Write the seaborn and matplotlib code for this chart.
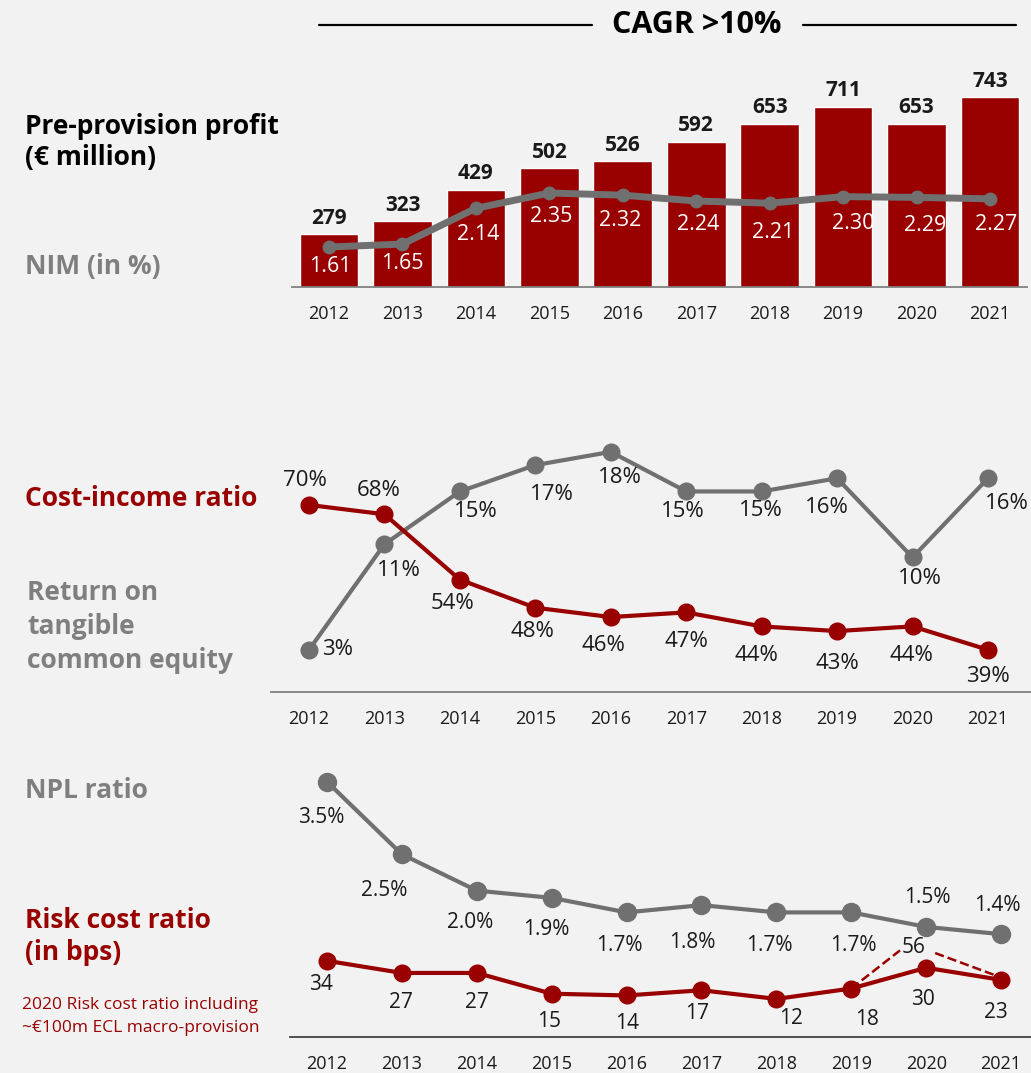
import matplotlib
matplotlib.use("Agg")
import matplotlib.pyplot as plt
import seaborn as sns
from matplotlib.lines import Line2D

# data
years = [2012, 2013, 2014, 2015, 2016, 2017, 2018, 2019, 2020, 2021]
profit = [279, 323, 429, 502, 526, 592, 653, 711, 653, 743]
nim = [1.61, 1.65, 2.14, 2.35, 2.32, 2.24, 2.21, 2.30, 2.29, 2.27]
cost_income = [70, 68, 54, 48, 46, 47, 44, 43, 44, 39]
rote = [3, 11, 15, 17, 18, 15, 15, 16, 10, 16]
npl = [3.5, 2.5, 2.0, 1.9, 1.7, 1.8, 1.7, 1.7, 1.5, 1.4]
risk_cost = [34, 27, 27, 15, 14, 17, 12, 18, 30, 23]
risk_2020_incl_ecl = 56

RED = "#990000"
GRAY = "#707070"
TXTGRAY = "#7f7f7f"
BG = "#f2f2f2"
INK = "#1a1a1a"

sns.set_theme(style="white")
plt.rcParams["font.family"] = ["Open Sans", "DejaVu Sans"]

W, H = 1031, 1073


def px_box(l, t, r, b):
    return [l / W, 1 - b / H, (r - l) / W, (b - t) / H]


def fig_txt(x, y, s, **kw):
    fig.text(x / W, 1 - y / H, s, va="center", **kw)


def clean(ax, spine_color=None):
    for side in ["top", "left", "right", "bottom"]:
        ax.spines[side].set_visible(False)
    if spine_color:
        ax.spines["bottom"].set_visible(True)
        ax.spines["bottom"].set_color(spine_color)
        ax.spines["bottom"].set_linewidth(1.3)
    ax.set_yticks([])
    ax.set_ylabel("")
    ax.set_xlabel("")
    ax.patch.set_alpha(0)


def label_points(ax, xs, ys, texts, offsets, **kw):
    for x, y, t, (dx, dy) in zip(xs, ys, texts, offsets):
        ax.annotate(t, (x, y), xytext=(dx, -dy), textcoords="offset pixels",
                    ha="center", va="center", annotation_clip=False, **kw)


def year_axis(ax, right=9.5):
    ax.set_xlim(years[0] - 0.5, years[0] + right)
    ax.set_xticks(years)
    ax.set_xticklabels([str(y) for y in years], fontsize=13, color=INK)
    ax.tick_params(axis="x", length=0, pad=13)


fig = plt.figure(figsize=(W / 100, H / 100), dpi=100, facecolor=BG)

# ---- panel 1: pre-provision profit bars + NIM line
ax1 = fig.add_axes(px_box(292.3, 90, 1026.7, 287))
sns.barplot(x=years, y=profit, native_scale=True, color=RED, saturation=1,
            width=0.8, ax=ax1)
ax1.set_ylim(100, 767)
clean(ax1, "#808080")
year_axis(ax1)
ax1.bar_label(ax1.containers[0], labels=[str(v) for v in profit], padding=4,
              fontsize=15, fontweight="bold", color=INK)

ax1b = ax1.twinx()
sns.lineplot(x=years, y=nim, color=GRAY, linewidth=5, marker="o",
             markersize=10, markeredgewidth=0, ax=ax1b)
ax1b.set_ylim(1.062, 3.761)
clean(ax1b)
nim_off = [(1, 19), (0, 19), (2, 26), (2, 24), (-3, 25), (2, 23), (3, 29),
           (10, 27), (9, 28), (6, 26)]
label_points(ax1b, years, nim, [f"{v:.2f}" for v in nim], nim_off,
             fontsize=15.5, color="white")

# ---- panel 2: cost-income ratio and RoTE
ax2 = fig.add_axes(px_box(271.3, 440, 1025.7, 692))
sns.lineplot(x=years, y=rote, color=GRAY, linewidth=3, marker="o",
             markersize=13, markeredgewidth=0, ax=ax2)
ax2.set_ylim(-0.2, 18.9)
clean(ax2, "#808080")
year_axis(ax2)
ax2.spines["bottom"].set_bounds(years[0] - 0.5, years[0] + 9.9)
rote_off = [(29, 0), (14, 26), (16, 20), (17, 29), (9, 26), (-3, 20),
          (-1, 19), (-10, 29), (7, 21), (19, 25)]
label_points(ax2, years, rote, [f"{v}%" for v in rote], rote_off,
             fontsize=16, color=INK)

ax2b = ax2.twinx()
sns.lineplot(x=years, y=cost_income, color=RED, linewidth=3, marker="o",
             markersize=13, markeredgewidth=0, ax=ax2b)
ax2b.set_ylim(29.96, 83.9)
clean(ax2b)
ci_off = [(-4, -24), (-6, -24), (-7, 24), (-3, 24), (-7, 28), (0, 29),
          (-5, 29), (0, 32), (-1, 29), (0, 27)]
label_points(ax2b, years, cost_income, [f"{v}%" for v in cost_income], ci_off,
             fontsize=16, color=INK)

# ---- panel 3: NPL ratio and risk cost
ax3 = fig.add_axes(px_box(289.6, 760, 1031, 1037))
sns.lineplot(x=years, y=npl, color=GRAY, linewidth=3, marker="o",
             markersize=14, markeredgewidth=0, ax=ax3)
ax3.set_ylim(-0.017, 3.80)
clean(ax3, "#404040")
year_axis(ax3, right=9.4)
npl_off = [(-6, 36), (-18, 36), (-7, 32), (-5, 32), (-7, 33), (-9, 37),
           (-7, 33), (2, 33), (1, -29), (-4, -29)]
label_points(ax3, years, npl, [f"{v:.1f}%" for v in npl], npl_off,
             fontsize=15, color=INK)

ax3b = ax3.twinx()
sns.lineplot(x=years, y=risk_cost, color=RED, linewidth=3, marker="o",
             markersize=13, markeredgewidth=0, ax=ax3b)
ax3b.set_ylim(-10, 150)
clean(ax3b)
rc_off = [(-6, 24), (-1, 30), (0, 30), (-3, 28), (0, 28), (-4, 23),
          (15, 20), (16, 31), (-3, 32), (-5, 33)]
label_points(ax3b, years, risk_cost, [str(v) for v in risk_cost], rc_off,
             fontsize=15, color=INK)

# 2020 incl. ECL macro-provision: dashed detour around the "56" label
peak = risk_cost[8] + 10
ax3b.plot([years[7], years[8] - 0.35], [risk_cost[7], peak], ls="--",
          color=RED, lw=1.8)
ax3b.plot([years[8] + 0.12, years[9] - 0.1], [peak - 1.5, risk_cost[9] + 3],
          ls="--", color=RED, lw=1.8)
ax3b.annotate(str(risk_2020_incl_ecl), (years[8], peak), xytext=(-13, 3),
              textcoords="offset pixels", ha="center", va="center",
              fontsize=15, color=INK)

# ---- headline and left-hand labels
fig_txt(697, 25, "CAGR >10%", ha="center", fontsize=22, fontweight="bold",
        color="black")
fig.add_artist(Line2D([319 / W, 592 / W], [1 - 25 / H] * 2, color="black", lw=1.6))
fig.add_artist(Line2D([803 / W, 1016 / W], [1 - 25 / H] * 2, color="black", lw=1.6))

bold = dict(fontsize=19, fontweight="bold", ha="left")
fig_txt(25, 126, "Pre-provision profit", color="black", **bold)
fig_txt(25, 158, "(€ million)", color="black", **bold)
fig_txt(25, 267, "NIM (in %)", color=TXTGRAY, **bold)
fig_txt(25, 498, "Cost-income ratio", color=RED, **bold)
fig_txt(27, 592, "Return on", color=TXTGRAY, **bold)
fig_txt(27, 626, "tangible", color=TXTGRAY, **bold)
fig_txt(27, 660, "common equity", color=TXTGRAY, **bold)
fig_txt(25, 791, "NPL ratio", color=TXTGRAY, **bold)
fig_txt(25, 920, "Risk cost ratio", color=RED, **bold)
fig_txt(25, 953, "(in bps)", color=RED, **bold)
fig_txt(22, 1005, "2020 Risk cost ratio including", color=RED, fontsize=12.5, ha="left")
fig_txt(22, 1028, "~€100m ECL macro-provision", color=RED, fontsize=12.5, ha="left")

fig.savefig("out.png", dpi=100, facecolor=BG)
